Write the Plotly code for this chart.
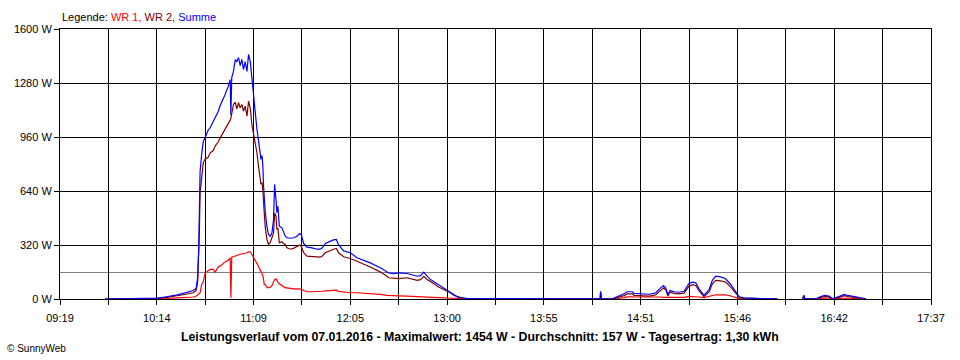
import plotly.graph_objects as go

# time of day in minutes (e.g. 584.8 = 09:44.8)
minutes = [584.8, 599.1, 614.5, 619.1, 626.0, 631.1, 635.1, 636.8, 637.7, 638.3,
           638.7, 639.1, 640.0, 640.9, 642.0, 643.7, 644.9, 646.6, 647.7, 649.4,
           650.6, 651.7, 653.4, 655.2, 656.3, 656.7, 657.2, 658.2, 659.2, 660.1,
           661.1, 662.0, 663.0, 663.9, 664.9, 665.9, 666.8, 667.8, 668.7, 669.5,
           670.0, 670.6, 671.6, 672.5, 673.1, 673.9, 674.5, 675.0, 675.4, 675.8,
           676.3, 677.3, 678.2, 679.2, 680.2, 681.1, 681.7, 682.5, 683.0, 683.6,
           684.4, 685.9, 686.8, 687.8, 688.8, 690.7, 692.5, 694.5, 696.0, 697.0,
           698.3, 700.2, 703.1, 705.9, 707.8, 709.0, 710.7, 713.6, 715.4, 717.0,
           718.3, 721.2, 725.0, 728.8, 734.6, 736.4, 741.2, 742.2, 746.0, 746.9,
           749.8, 752.6, 757.5, 761.2, 763.2, 765.1, 767.0, 768.9, 770.8, 773.7,
           774.6, 776.5, 778.4, 780.4, 782.2, 784.1, 786.1, 788.0, 791.8, 799.4,
           822.3, 862.4, 867.8, 868.1, 868.7, 874.8, 877.7, 881.4, 883.4, 886.3,
           887.2, 892.0, 895.8, 898.4, 899.6, 902.4, 904.0, 905.3, 906.6, 907.8,
           910.1, 912.9, 915.8, 918.6, 920.6, 922.5, 924.4, 927.2, 930.1, 932.0,
           933.9, 936.8, 939.6, 942.5, 945.4, 947.3, 950.1, 954.0, 959.7, 969.2,
           976.0,
           983.6, 984.3, 984.9, 991.2, 994.0, 996.3, 998.6, 1000.9, 1004.3, 1007.4,
           1009.3, 1012.3, 1015.0, 1019.8]

summe = [0, 1, 5, 12, 24, 38, 50, 62, 127, 290,
         650, 755, 856, 933, 957, 1000, 1016, 1050, 1076, 1110,
         1147, 1170, 1212, 1260, 1300, 1090, 1312, 1350, 1419, 1407,
         1431, 1383, 1419, 1360, 1407, 1348, 1449, 1407, 1300, 1241,
         1182, 1123, 1005, 940, 900, 827, 850, 787, 668, 560,
         520, 431, 382, 372, 392, 471, 679, 590, 511, 550,
         431, 422, 392, 372, 363, 360, 363, 372, 388, 380,
         329, 307, 303, 295, 295, 303, 329, 345, 350, 353,
         320, 285, 274, 244, 224, 214, 190, 185, 160, 155,
         150, 155, 151, 140, 135, 138, 159, 135, 115, 96,
         90, 76, 66, 52, 40, 24, 14, 7, 3, 2,
         1, 1, 1, 46, 1, 1, 13, 31, 43, 43,
         33, 31, 28, 33, 37, 66, 80, 66, 27, 50,
         43, 40, 46, 92, 100, 96, 60, 21, 56, 111,
         135, 131, 120, 86, 40, 13, 7, 7, 3, 1,
         None,
         1, 22, 1, 1, 15, 21, 18, 2, 15, 27,
         21, 15, 10, 1]

wr2 = [0, 0, 3, 8, 17, 28, 37, 50, 100, 250,
       402, 629, 728, 807, 830, 840, 866, 880, 906, 930,
       955, 975, 1000, 1040, 1060, 1070, 1093, 1153, 1166, 1127,
       1163, 1133, 1153, 1113, 1143, 1083, 1172, 1130, 1034, 990,
       965, 920, 866, 787, 728, 680, 690, 649, 570, 480,
       430, 353, 323, 335, 360, 390, 510, 491, 412, 420,
       333, 340, 330, 323, 303, 295, 300, 310, 320, 310,
       274, 254, 254, 250, 248, 255, 274, 290, 295, 300,
       274, 250, 240, 224, 199, 190, 165, 160, 135, 126,
       124, 121, 126, 118, 110, 115, 135, 116, 105, 85,
       76, 66, 55, 44, 37, 22, 13, 8, 3, 1,
       0, 0, 0, 40, 0, 0, 8, 20, 30, 30,
       22, 20, 17, 22, 25, 50, 66, 55, 18, 40,
       33, 30, 35, 75, 85, 80, 48, 14, 42, 90,
       110, 108, 100, 70, 33, 10, 5, 5, 2, 0,
       None,
       0, 18, 0, 0, 10, 15, 13, 1, 10, 20,
       15, 11, 7, 0]

wr1 = [0, 0, 1, 3, 7, 8, 12, 16, 22, 30,
       35, 37, 86, 100, 155, 170, 175, 175, 159, 188,
       195, 205, 220, 230, 244, 7, 248, 250, 255, 258,
       262, 264, 266, 268, 270, 274, 280, 277, 264, 250,
       240, 234, 210, 194, 180, 165, 155, 140, 115, 86,
       86, 70, 66, 70, 80, 100, 115, 120, 105, 100,
       90, 78, 72, 66, 66, 62, 60, 60, 60, 58,
       50, 43, 43, 43, 45, 46, 48, 50, 52, 52,
       45, 40, 37, 37, 34, 34, 28, 27, 22, 21,
       20, 19, 17, 16, 15, 14, 14, 13, 12, 10,
       10, 8, 7, 6, 5, 3, 2, 2, 1, 0,
       0, 0, 0, 2, 0, 0, 3, 8, 13, 13,
       12, 12, 12, 16, 15, 12, 10, 10, 8, 9,
       9, 10, 10, 16, 16, 14, 12, 8, 14, 20,
       25, 25, 24, 18, 8, 3, 2, 2, 1, 0,
       None,
       0, 2, 0, 0, 4, 6, 5, 0, 4, 7,
       6, 4, 3, 0]

average_w = 157
y_ticks = [0, 320, 640, 960, 1280, 1600]
x_start, x_end = 559, 1057  # 09:19 .. 17:37
x_tick_labels = ["09:19", "10:14", "11:09", "12:05", "13:00",
                 "13:55", "14:51", "15:46", "16:42", "17:37"]

n_steps = 2 * (len(x_tick_labels) - 1)
x_tickvals = [x_start + i * (x_end - x_start) / n_steps for i in range(n_steps + 1)]
x_ticktext = [x_tick_labels[i // 2] if i % 2 == 0 else "" for i in range(n_steps + 1)]

FONT = "Liberation Sans, Arial, sans-serif"

fig = go.Figure()
fig.add_trace(go.Scatter(x=minutes, y=wr1, mode="lines", name="WR 1",
                         line=dict(color="#FF0000", width=1.2), connectgaps=False))
fig.add_trace(go.Scatter(x=minutes, y=wr2, mode="lines", name="WR 2",
                         line=dict(color="#800000", width=1.2), connectgaps=False))
fig.add_trace(go.Scatter(x=minutes, y=summe, mode="lines", name="Summe",
                         line=dict(color="#0000FF", width=1.2), connectgaps=False))

fig.add_shape(type="line", xref="paper", x0=0, x1=1, yref="y",
              y0=average_w, y1=average_w, line=dict(color="#808080", width=1),
              layer="between")

fig.update_layout(
    width=960, height=360,
    margin=dict(l=60, r=29, t=29, b=61),
    paper_bgcolor="white", plot_bgcolor="white",
    showlegend=False,
    font=dict(family=FONT, size=11, color="black"),
    xaxis=dict(range=[x_start, x_end], tickmode="array", tickvals=x_tickvals,
               ticktext=x_ticktext, showgrid=True, gridcolor="black", gridwidth=1,
               showline=True, linecolor="black", linewidth=1, mirror=True,
               ticks="outside", ticklen=5, tickcolor="black", zeroline=False,
               ticklabelstandoff=4,
               tickfont=dict(family=FONT, size=11)),
    yaxis=dict(range=[0, 1600], tickmode="array", tickvals=y_ticks,
               ticktext=[f"{v} W" for v in y_ticks], showgrid=True,
               gridcolor="black", gridwidth=1, showline=True, linecolor="black",
               linewidth=1, mirror=True, ticks="outside", ticklen=5,
               tickcolor="black", zeroline=False,
               tickfont=dict(family=FONT, size=11)),
    annotations=[
        dict(text="Legende: <span style='color:#FF0000'>WR 1,</span> "
                  "<span style='color:#800000'>WR 2,</span> "
                  "<span style='color:#0000FF'>Summe</span>",
             xref="paper", yref="paper", x=0, y=1.044, xanchor="left",
             yanchor="middle", showarrow=False, font=dict(family=FONT, size=11)),
        dict(text="<b>Leistungsverlauf vom 07.01.2016 - Maximalwert: 1454 W - "
                  "Durchschnitt: 157 W - Tagesertrag: 1,30 kWh</b>",
             xref="paper", yref="paper", x=0.4822, y=-0.1407, xanchor="center",
             yanchor="middle", showarrow=False, font=dict(family=FONT, size=12.3)),
        dict(text="© SunnyWeb", xref="paper", yref="paper", x=-0.0631, y=-0.1815,
             xanchor="left", yanchor="middle", showarrow=False,
             font=dict(family=FONT, size=10)),
    ],
)

fig.write_html("out.html", config={"displayModeBar": False},
               post_script="document.body.style.margin='0px';"
                           "document.body.style.overflow='hidden';")
